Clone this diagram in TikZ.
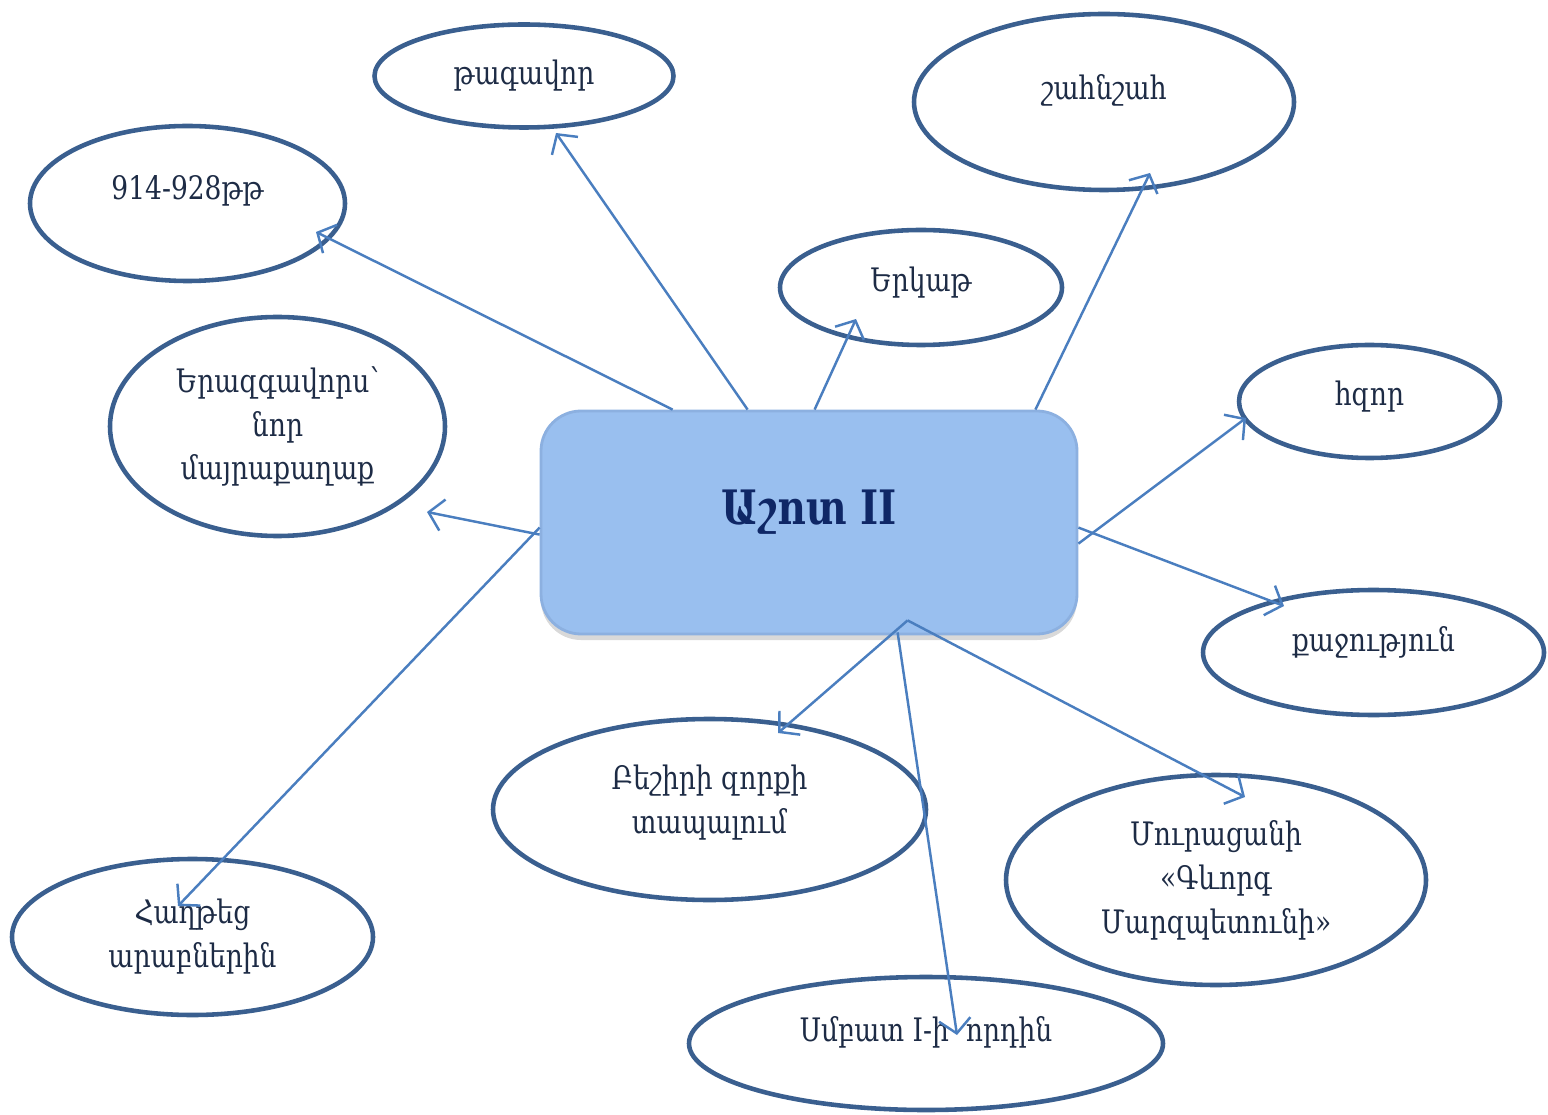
\documentclass[tikz,border=0pt]{standalone}
\usepackage{fontspec}
\setmainfont{DejaVu Serif}[FakeStretch=0.82]
\usepackage{tikz}
\usetikzlibrary{arrows.meta,calc}
\usetikzlibrary{positioning,shapes.geometric,shadows}

\definecolor{ringblue}{HTML}{3A5F8F}
\definecolor{arrowblue}{HTML}{4A7EBF}
\definecolor{boxblue}{HTML}{99BFEF}
\definecolor{boxedge}{HTML}{8CB0E0}
\definecolor{titleblue}{HTML}{0F2766}
\definecolor{textnavy}{HTML}{1D2B45}

\begin{document}
\begin{tikzpicture}[
      on grid, font=\fontsize{9.2}{12.5}\selectfont,
      bubble/.style={ellipse, draw=ringblue, line width=1.3pt, text=textnavy, align=center, inner sep=0pt},
      hub/.style={rectangle, rounded corners=0.4cm, fill=boxblue, draw=boxedge, line width=0.8pt,
                  minimum width=5.36cm, minimum height=2.23cm,
                  drop shadow={shadow xshift=0pt, shadow yshift=-0.06cm, opacity=0.3},
                  text=titleblue, font=\fontsize{13.5}{16}\selectfont\bfseries},
      link/.style={draw=arrowblue, line width=0.7pt, -{Straight Barb[length=4pt, width=9pt]}}]

      \useasboundingbox (0,0) rectangle (15.48,-11.15);

      % Nodes
      \node[hub] (ashot) at (8.09,-5.225) {\raisebox{0.3cm}{Աշոտ II}};
      \node[bubble, minimum width=2.99cm, minimum height=1.03cm, above left=4.465cm and 2.85cm of ashot] (king) {թագավոր};
      \node[bubble, minimum width=3.80cm, minimum height=1.76cm, above right=4.205cm and 2.95cm of ashot] (shah) {\raisebox{0.29cm}{շահնշահ}};
      \node[bubble, minimum width=3.15cm, minimum height=1.55cm, above left=3.19cm and 6.215cm of ashot] (years) {\raisebox{0.32cm}{914-928թթ}};
      \node[bubble, minimum width=2.82cm, minimum height=1.15cm, above right=2.35cm and 1.12cm of ashot] (iron) {\raisebox{0.16cm}{Երկաթ}};
      \node[bubble, minimum width=3.35cm, minimum height=2.19cm, above left=0.96cm and 5.315cm of ashot] (capital) {Երազգավորս՝\\նոր\\մայրաքաղաք};
      \node[bubble, minimum width=2.61cm, minimum height=1.13cm, above right=1.21cm and 5.605cm of ashot] (mighty) {\raisebox{0.16cm}{հզոր}};
      \node[bubble, minimum width=3.41cm, minimum height=1.25cm, below right=1.30cm and 5.645cm of ashot] (brave) {\raisebox{0.27cm}{քաջություն}};
      \node[bubble, minimum width=4.33cm, minimum height=1.81cm, text depth=6pt, below left=2.87cm and 0.995cm of ashot] (beshir) {Բեշիրի զորքի\\տապալում};
      \node[bubble, minimum width=4.20cm, minimum height=2.10cm, below right=3.575cm and 4.07cm of ashot] (novel) {Մուրացանի\\«Գևորգ\\Մարզպետունի»};
      \node[bubble, minimum width=3.61cm, minimum height=1.56cm, below left=4.145cm and 6.165cm of ashot] (arabs) {Հաղթեց\\արաբներին};
      \node[bubble, minimum width=4.74cm, minimum height=1.33cm, below right=5.21cm and 1.17cm of ashot] (son) {\raisebox{0.29cm}{Սմբատ I-ի\ \ որդին}};

      % Edges
      \draw[link] ([xshift=1.33cm]ashot.north west) -- ([shift={(1.285,-0.285)}]years.center);
      \draw[link] ([xshift=2.08cm]ashot.north west) -- ([shift={(0.32,-0.57)}]king.center);
      \draw[link] ([xshift=2.75cm]ashot.north west) -- ([shift={(-0.65,-0.315)}]iron.center);
      \draw[link] ([xshift=-0.43cm]ashot.north east) -- ([shift={(0.46,-0.71)}]shah.center);
      \draw[link] ([yshift=-1.34cm]ashot.north east) -- ([shift={(-1.235,-0.165)}]mighty.center);
      \draw[link] ([yshift=-1.18cm]ashot.north east) -- ([shift={(-0.895,0.465)}]brave.center);
      \draw[link] ([yshift=-1.25cm]ashot.north west) -- ([shift={(1.495,-0.855)}]capital.center);
      \draw[link] ([yshift=-1.18cm]ashot.north west) -- ([shift={(-0.145,0.31)}]arabs.center);
      \draw[link] ([shift={(3.68,0.15)}]ashot.south west) -- ([shift={(0.685,0.765)}]beshir.center);
      \draw[link] ([shift={(3.68,0.15)}]ashot.south west) -- ([shift={(0.29,0.83)}]novel.center);
      \draw[link] ([shift={(3.58,0.03)}]ashot.south west) -- ([shift={(0.31,0.085)}]son.center);

\end{tikzpicture}
\end{document}
